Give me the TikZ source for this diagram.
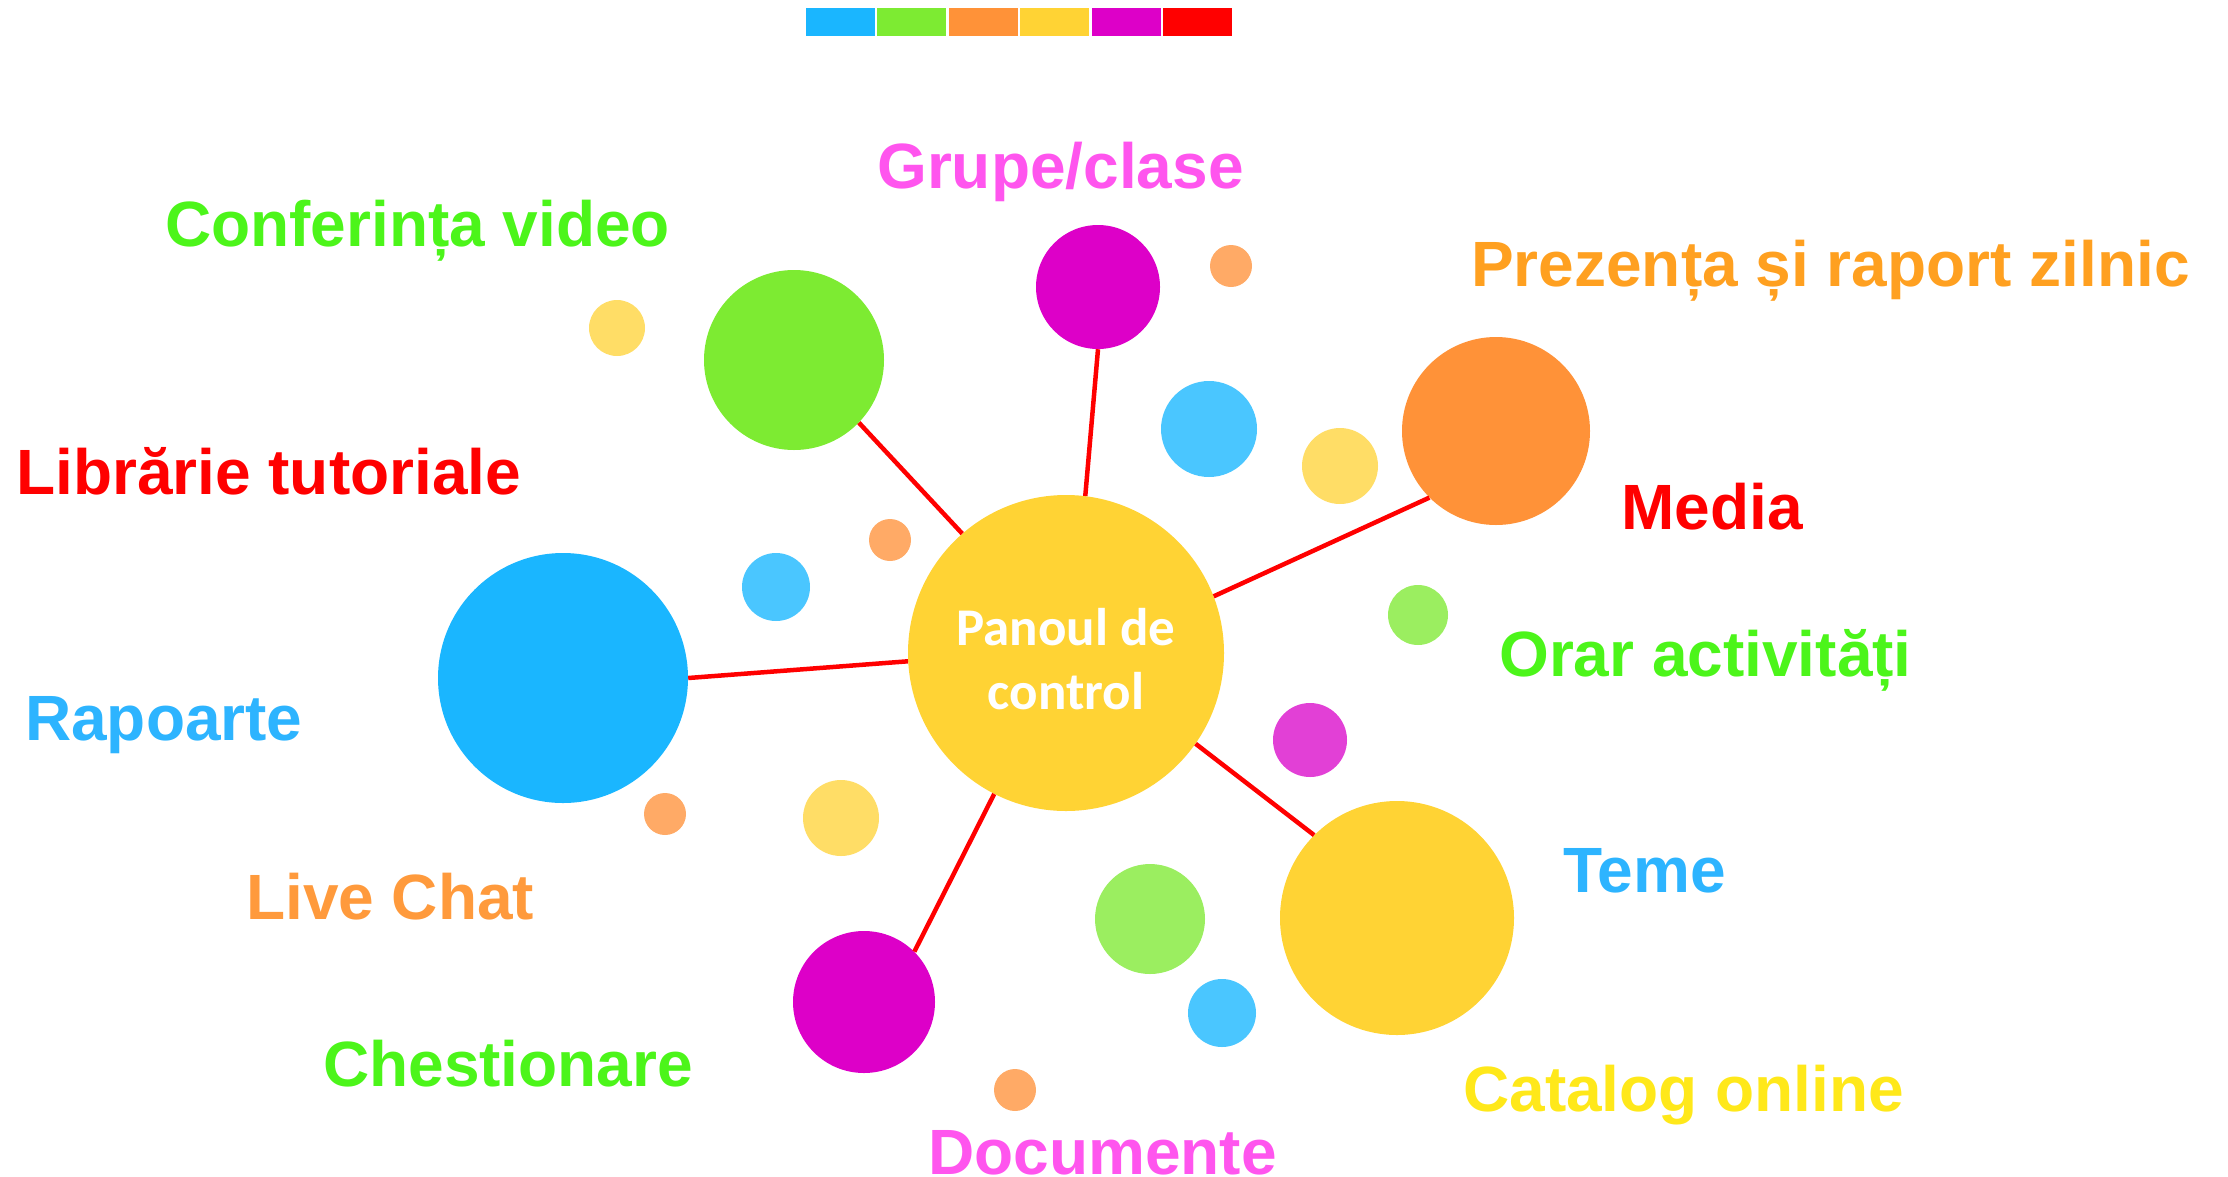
\documentclass[tikz,border=0pt]{standalone}
\usepackage{fontspec}
\setmainfont{Liberation Sans}
\newfontfamily\calib{Carlito}
\usepackage{xcolor}
\usetikzlibrary{positioning}

\definecolor{cblue}{HTML}{1AB6FF}
\definecolor{cgreen}{HTML}{7DEB32}
\definecolor{corange}{HTML}{FF9238}
\definecolor{cyellow}{HTML}{FFD334}
\definecolor{cmagenta}{HTML}{DD00C8}
\definecolor{cred}{HTML}{FF0000}
\definecolor{lblue}{HTML}{4AC6FF}
\definecolor{lorange}{HTML}{FFAA66}
\definecolor{lyellow}{HTML}{FFDD66}
\definecolor{lgreen}{HTML}{9BEE60}
\definecolor{lmagenta}{HTML}{E240D6}
\definecolor{tpink}{HTML}{FF55EE}
\definecolor{tgreen}{HTML}{4CF51A}
\definecolor{torange}{HTML}{FFA020}
\definecolor{tyellow}{HTML}{FFE81A}
\definecolor{tblue}{HTML}{2DB4FF}
\definecolor{tlive}{HTML}{FF9A3C}

\begin{document}
\begin{tikzpicture}[x=1pt, y=-1pt,
	bub/.style={circle, fill, draw=none, inner sep=0pt, minimum size=2*#1},
	lbl/.style={font=\fontsize{64}{70}\selectfont\bfseries, anchor=base west, inner sep=0pt},
	spoke/.style={draw=cred, line width=4.5pt}]
	\useasboundingbox (0,0) rectangle (2228,1176);
	% colour strip
	\foreach \c [count=\i] in {cblue,cgreen,corange,cyellow,cmagenta,cred}
		\node[fill=\c, minimum width=69pt, minimum height=28pt, inner sep=0pt] (bar\i) at ({840+(\i-1)*71.5},22) {};
	% big bubbles
	\node[bub=158, cyellow, label={[text=white, align=center, yshift=-6pt, font=\calib\fontsize{53}{64}\selectfont\bfseries]center:Panoul de\\control}] (panel) at (1066,653) {};
	\node[bub=90, cgreen] (conf) at (794,360) {};
	\node[bub=62, cmagenta] (grupe) at (1098,287) {};
	\node[bub=94, corange] (prez) at (1496,431) {};
	\node[bub=125, cblue] (rap) at (563,678) {};
	\node[bub=117, cyellow] (cat) at (1397,918) {};
	\node[bub=71, cmagenta] (doc) at (864,1002) {};
	% small bubbles
	\node[bub=21, lorange] (s1) at (1231,266) {};
	\node[bub=28, lyellow] (s2) at (617,328) {};
	\node[bub=48, lblue] (s3) at (1209,429) {};
	\node[bub=38, lyellow] (s4) at (1340,466) {};
	\node[bub=21, lorange] (s5) at (890,540) {};
	\node[bub=34, lblue] (s6) at (776,587) {};
	\node[bub=30, lgreen] (s7) at (1418,615) {};
	\node[bub=37, lmagenta] (s8) at (1310,740) {};
	\node[bub=21, lorange] (s9) at (665,814) {};
	\node[bub=38, lyellow] (s10) at (841,818) {};
	\node[bub=55, lgreen] (s11) at (1150,919) {};
	\node[bub=34, lblue] (s12) at (1222,1013) {};
	\node[bub=21, lorange] (s13) at (1015,1090) {};
	% spokes
	\foreach \n/\a/\b in {conf/131.7/-44, grupe/83.8/-90, prez/21.8/225.5, rap/183/0, cat/-35.8/135, doc/243.4/45.5}
		\draw[spoke] (panel.\a) -- (\n.\b);
	% labels
	\node[lbl, text=tpink] (tgrupe) at (877,188) {Grupe/clase};
	\node[lbl, text=tgreen] (tconf) at (165,246) {Conferința video};
	\node[lbl, text=torange] (tprez) at (1471,286) {Prezența și raport zilnic};
	\node[lbl, text=cred] (tlib) at (16,494) {Librărie tutoriale};
	\node[lbl, text=cred] (tmedia) at (1621,529) {Media};
	\node[lbl, text=tgreen] (torar) at (1499,676) {Orar activități};
	\node[lbl, text=tblue] (trap) at (25,740) {Rapoarte};
	\node[lbl, text=tblue] (tteme) at (1563,892) {Teme};
	\node[lbl, text=tlive] (tlive) at (246,919) {Live Chat};
	\node[lbl, text=tgreen] (tchest) at (323,1086) {Chestionare};
	\node[lbl, text=tyellow] (tcat) at (1463,1111) {Catalog online};
	\node[lbl, text=tpink] (tdoc) at (928,1174) {Documente};
\end{tikzpicture}
\end{document}
